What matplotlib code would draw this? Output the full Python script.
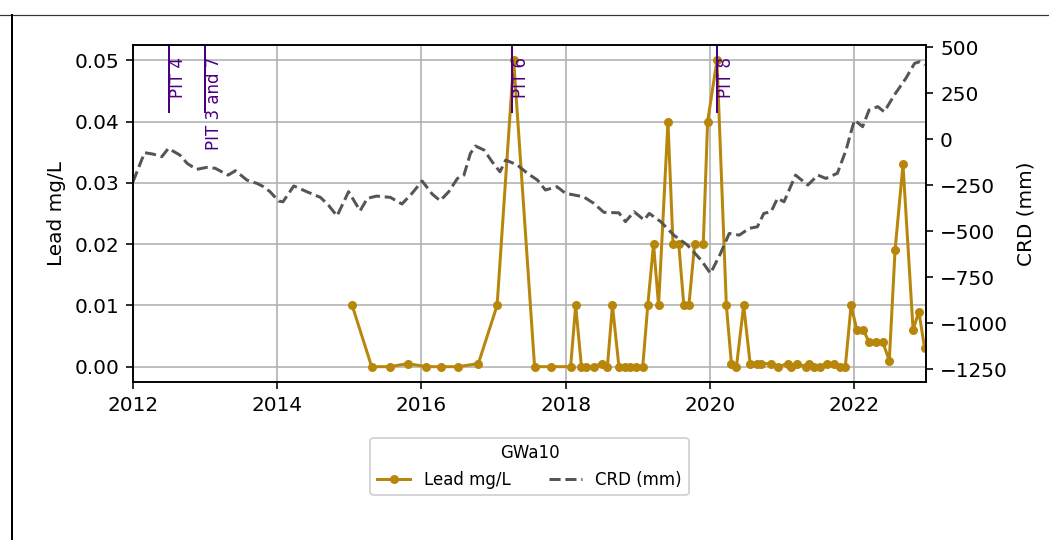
import matplotlib
matplotlib.use("Agg")
import matplotlib.pyplot as plt
from matplotlib.lines import Line2D

# lead samples (decimal year, mg/L)
lead_year = [2015.04, 2015.31, 2015.56, 2015.81, 2016.07, 2016.27, 2016.51, 2016.79,
             2017.05, 2017.28, 2017.57, 2017.80, 2018.07, 2018.14, 2018.22, 2018.29,
             2018.39, 2018.50, 2018.58, 2018.65, 2018.74, 2018.82, 2018.89, 2018.98,
             2019.07, 2019.14, 2019.22, 2019.29, 2019.42, 2019.49, 2019.57, 2019.64,
             2019.71, 2019.79, 2019.91, 2019.97, 2020.10, 2020.23, 2020.30, 2020.37,
             2020.47, 2020.56, 2020.66, 2020.71, 2020.85, 2020.94, 2021.09, 2021.13,
             2021.21, 2021.33, 2021.38, 2021.45, 2021.53, 2021.63, 2021.72, 2021.81,
             2021.88, 2021.96, 2022.04, 2022.13, 2022.21, 2022.31, 2022.40, 2022.49,
             2022.57, 2022.68, 2022.82, 2022.90, 2022.98]
lead = [0.01, 0.0, 0.0, 0.0005, 0.0, 0.0, 0.0, 0.0005,
        0.01, 0.05, 0.0, 0.0, 0.0, 0.01, 0.0, 0.0,
        0.0, 0.0005, 0.0, 0.01, 0.0, 0.0, 0.0, 0.0,
        0.0, 0.01, 0.02, 0.01, 0.04, 0.02, 0.02, 0.01,
        0.01, 0.02, 0.02, 0.04, 0.05, 0.01, 0.0005, 0.0,
        0.01, 0.0005, 0.0005, 0.0005, 0.0005, 0.0, 0.0005, 0.0,
        0.0005, 0.0, 0.0005, 0.0, 0.0, 0.0005, 0.0005, 0.0,
        0.0, 0.01, 0.006, 0.006, 0.004, 0.004, 0.004, 0.001,
        0.019, 0.033, 0.006, 0.009, 0.003]

# cumulative rainfall departure (decimal year, mm)
crd_year = [2012.00, 2012.16, 2012.28, 2012.40, 2012.49, 2012.65, 2012.75, 2012.88,
            2013.02, 2013.14, 2013.32, 2013.42, 2013.58, 2013.72, 2013.81, 2013.90,
            2014.02, 2014.08, 2014.23, 2014.41, 2014.60, 2014.71, 2014.83, 2014.99,
            2015.15, 2015.25, 2015.38, 2015.57, 2015.73, 2015.87, 2016.01, 2016.15,
            2016.26, 2016.38, 2016.50, 2016.59, 2016.68, 2016.75, 2016.87, 2016.98,
            2017.09, 2017.17, 2017.33, 2017.47, 2017.61, 2017.72, 2017.88, 2018.00,
            2018.12, 2018.25, 2018.39, 2018.53, 2018.74, 2018.83, 2018.95, 2019.09,
            2019.16, 2019.32, 2019.50, 2019.69, 2019.88, 2020.01, 2020.15, 2020.27,
            2020.41, 2020.55, 2020.66, 2020.75, 2020.85, 2020.94, 2021.03, 2021.19,
            2021.36, 2021.50, 2021.61, 2021.77, 2021.89, 2021.98, 2022.01, 2022.12,
            2022.21, 2022.33, 2022.42, 2022.56, 2022.72, 2022.84, 2022.91, 2022.98]
crd = [-232, -74, -82, -96, -51, -87, -132, -165,
       -154, -159, -196, -172, -223, -241, -259, -286,
       -337, -341, -255, -286, -317, -359, -418, -286,
       -390, -322, -310, -317, -353, -295, -228, -299,
       -335, -286, -214, -196, -78, -38, -60, -123,
       -178, -114, -141, -186, -223, -277, -259, -295,
       -304, -314, -349, -398, -401, -449, -395, -440,
       -404, -449, -522, -576, -658, -730, -621, -513,
       -522, -485, -477, -404, -395, -322, -341, -196,
       -250, -196, -214, -186, -60, 67, 103, 67,
       158, 176, 148, 239, 330, 411, 420, 402]

pit_year = [2012.5, 2013.0, 2017.25, 2020.1]
pit_label = ["PIT 4", "PIT 3 and 7", "PIT 6", "PIT 8"]

fig = plt.figure(figsize=(1049 / 144, 540 / 144), dpi=144)
fig.subplots_adjust(left=0.1268, right=0.8828, top=0.9167, bottom=0.2926)
ax = fig.add_subplot(111)

# frame left over from the notebook screenshot
fig.add_artist(Line2D([0, 1], [0.9722, 0.9722], transform=fig.transFigure,
                      color="#333333", lw=0.6))
fig.add_artist(Line2D([0.0112, 0.0112], [0, 0.9722], transform=fig.transFigure,
                      color="black", lw=1.0))

l1, = ax.plot(lead_year, lead, color="darkgoldenrod", marker="o",
              markersize=3.5, lw=1.5, label="Lead mg/L")
ax.set_xlim(2012, 2023.0)
ax.set_ylim(-0.0025, 0.0525)
ax.set_xticks([2012, 2014, 2016, 2018, 2020, 2022])
ax.set_xticklabels(["2012", "2014", "2016", "2018", "2020", "2022"])
ax.set_yticks([0.0, 0.01, 0.02, 0.03, 0.04, 0.05])
ax.set_ylabel("Lead mg/L")
ax.grid(True, color="#b0b0b0")

for x, txt in zip(pit_year, pit_label):
    ax.axvline(x, ymin=0.8, ymax=1.0, color="indigo", lw=1.0)
    ax.text(x, 0.965, txt, transform=ax.get_xaxis_transform(), rotation=90,
            ha="left", va="top", color="indigo", fontsize="small")

ax2 = ax.twinx()
l2, = ax2.plot(crd_year, crd, color="#555555", ls="--", lw=1.5, label="CRD (mm)")
ax2.set_ylim(-1320, 511)
ax2.set_yticks([500, 250, 0, -250, -500, -750, -1000, -1250])
ax2.set_ylabel("CRD (mm)")

ax.legend(handles=[l1, l2], loc="upper center", bbox_to_anchor=(0.5, -0.14),
          ncol=2, title="GWa10", fontsize="small", title_fontsize="small",
          columnspacing=2.3)

fig.savefig("out.png", dpi=144)
